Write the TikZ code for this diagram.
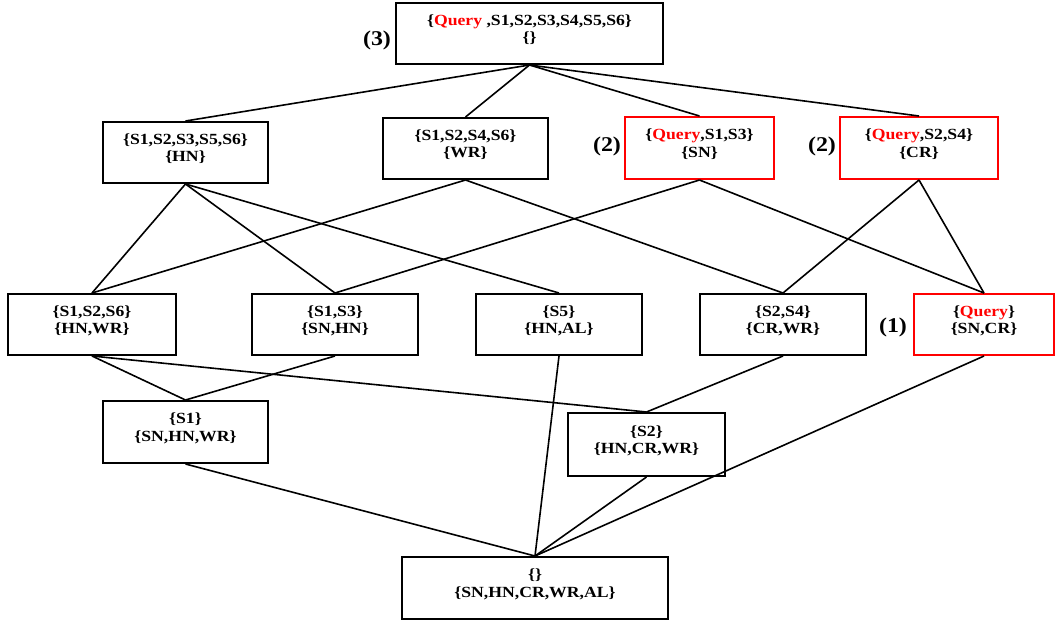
\documentclass[tikz,border=0pt]{standalone}
\usepackage{fontspec}
\setmainfont{Liberation Serif}[FakeStretch=1.14]
\begin{document}
\begin{tikzpicture}[x=1pt,y=-1pt,
  box/.style={draw=black,line width=2pt,align=center,inner sep=0pt,text depth=10pt,
    font=\bfseries\fontsize{15.5}{17.5}\selectfont},
  qbox/.style={box,draw=red},
  lbl/.style={font=\bfseries\fontsize{21}{24}\selectfont,inner sep=0pt},
  edge/.style={line width=1.6pt}]
\useasboundingbox (0,0) rectangle (1058,622);
\newcommand{\Q}{\textcolor{red}{Query}}
% top
\node[box,minimum width=267pt,minimum height=61pt] (T) at (529.5,33.5) {\{\Q\ ,S1,S2,S3,S4,S5,S6\}\\\{\}};
\node[lbl] (l3) at (377,40) {(3)};
% row 2
\node[box,minimum width=165pt,minimum height=61pt] (A) at (185.5,152.5) {\{S1,S2,S3,S5,S6\}\\\{HN\}};
\node[box,minimum width=165pt,minimum height=61pt] (B) at (465.5,148.5) {\{S1,S2,S4,S6\}\\\{WR\}};
\node[qbox,minimum width=149pt,minimum height=62pt] (C) at (699.5,148) {\{\Q,S1,S3\}\\\{SN\}};
\node[lbl] (l2a) at (607,146) {(2)};
\node[qbox,minimum width=158pt,minimum height=62pt] (D) at (919,148) {\{\Q,S2,S4\}\\\{CR\}};
\node[lbl] (l2b) at (822,146) {(2)};
% row 3
\node[box,minimum width=168pt,minimum height=61pt] (E) at (92,324.5) {\{S1,S2,S6\}\\\{HN,WR\}};
\node[box,minimum width=166pt,minimum height=61pt] (F) at (335,324.5) {\{S1,S3\}\\\{SN,HN\}};
\node[box,minimum width=166pt,minimum height=61pt] (G) at (559,324.5) {\{S5\}\\\{HN,AL\}};
\node[box,minimum width=166pt,minimum height=61pt] (H) at (783,324.5) {\{S2,S4\}\\\{CR,WR\}};
\node[qbox,minimum width=140pt,minimum height=61pt] (I) at (984,324.5) {\{\Q\}\\\{SN,CR\}};
\node[lbl] (l1) at (893,327) {(1)};
% row 4
\node[box,minimum width=165pt,minimum height=62pt] (J) at (185.5,432) {\{S1\}\\\{SN,HN,WR\}};
\node[box,minimum width=157pt,minimum height=63pt] (K) at (646.5,444.5) {\{S2\}\\\{HN,CR,WR\}};
% bottom
\node[box,minimum width=266pt,minimum height=62pt] (L) at (535,588) {\{\}\\\{SN,HN,CR,WR,AL\}};
% edges
\draw[edge] (T.south) -- (A.north);
\draw[edge] (T.south) -- (B.north);
\draw[edge] (T.south) -- (C.north);
\draw[edge] (T.south) -- (D.north);
\draw[edge] (A.south) -- (E.north);
\draw[edge] (A.south) -- (F.north);
\draw[edge] (A.south) -- (G.north);
\draw[edge] (B.south) -- (E.north);
\draw[edge] (B.south) -- (H.north);
\draw[edge] (C.south) -- (F.north);
\draw[edge] (C.south) -- (I.north);
\draw[edge] (D.south) -- (H.north);
\draw[edge] (D.south) -- (I.north);
\draw[edge] (E.south) -- (J.north);
\draw[edge] (F.south) -- (J.north);
\draw[edge] (E.south) -- (K.north);
\draw[edge] (H.south) -- (K.north);
\draw[edge] (J.south) -- (L.north);
\draw[edge] (G.south) -- (L.north);
\draw[edge] (K.south) -- (L.north);
\draw[edge] (I.south) -- (L.north);
\end{tikzpicture}
\end{document}
